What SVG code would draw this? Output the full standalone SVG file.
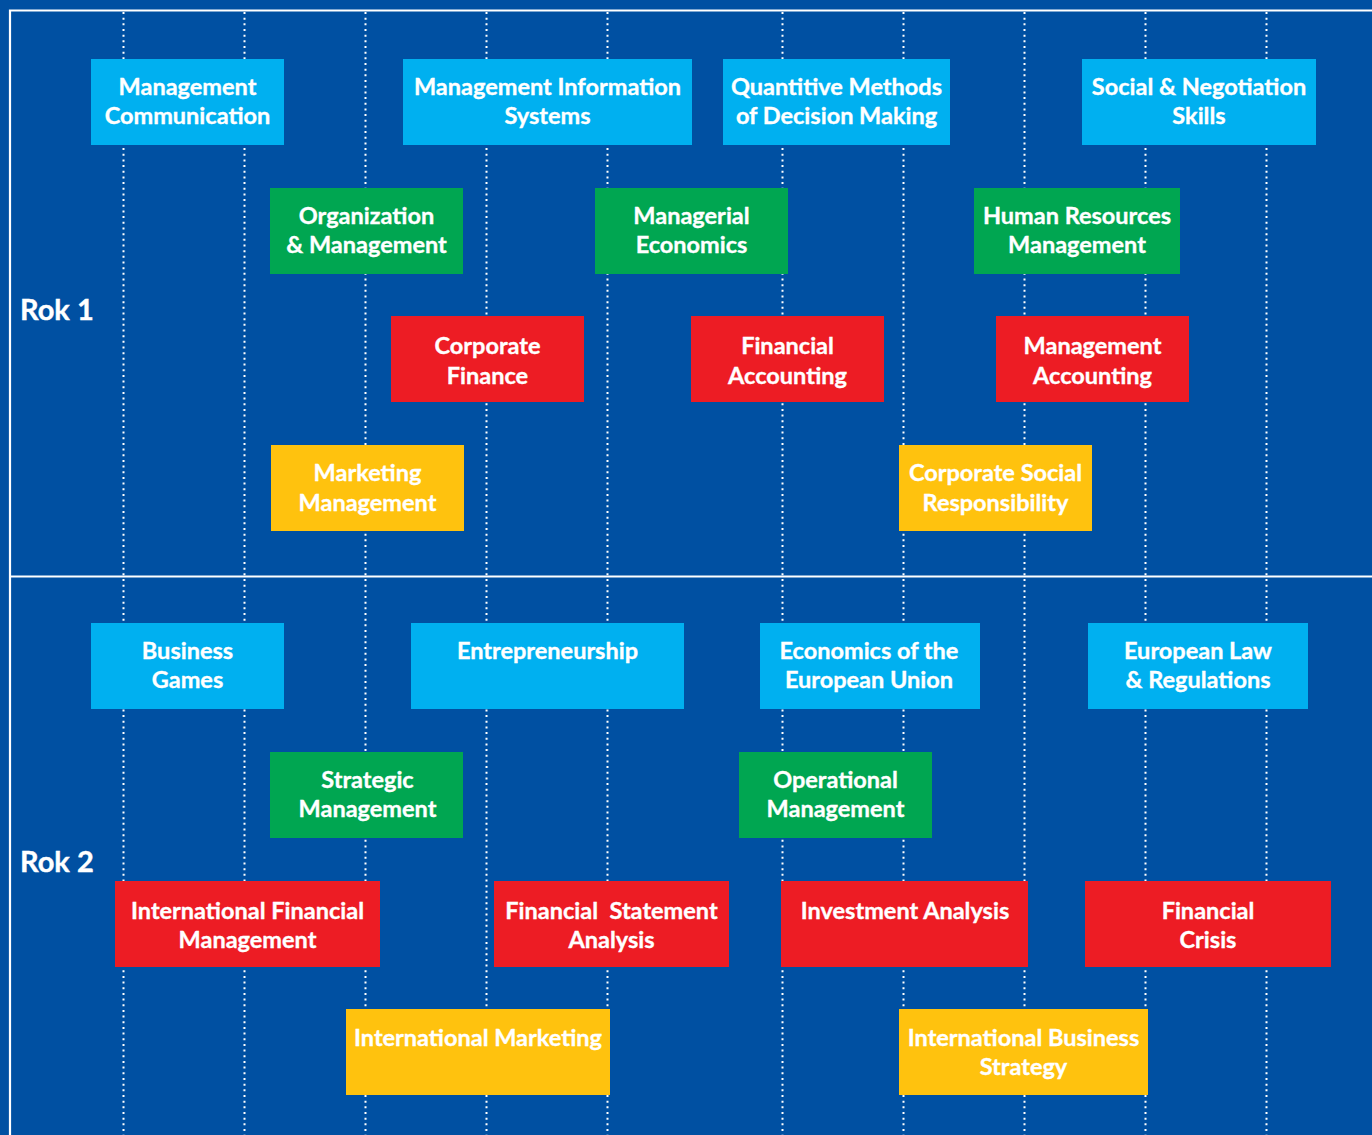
<svg xmlns="http://www.w3.org/2000/svg" width="1372" height="1135" viewBox="0 0 1372 1135">
<style>
.bg{fill:#0050A2}
.frame{stroke:#ffffff;stroke-width:2.2;fill:none}
.dot{stroke:#ffffff;stroke-width:2;stroke-dasharray:2 3.67;fill:none}
.b{fill:#00B0F0}
.g{fill:#00A651}
.r{fill:#ED1C24}
.y{fill:#FFC20E}
text{font-family:Lato,"Open Sans","Liberation Sans",sans-serif;font-weight:700;fill:#ffffff}
.t{font-size:23.5px;text-anchor:middle;stroke:#ffffff;stroke-width:0.35}
.rok{font-size:29px;stroke:#ffffff;stroke-width:0.4}
</style>
<rect class="bg" x="0" y="0" width="1372" height="1135"/>
<g id="connectors">
<line class="dot" x1="123.5" y1="12" x2="123.5" y2="1135"/>
<line class="dot" x1="244.5" y1="12" x2="244.5" y2="1135"/>
<line class="dot" x1="365.5" y1="12" x2="365.5" y2="1135"/>
<line class="dot" x1="486.5" y1="12" x2="486.5" y2="1135"/>
<line class="dot" x1="607.5" y1="12" x2="607.5" y2="1135"/>
<line class="dot" x1="782.5" y1="12" x2="782.5" y2="1135"/>
<line class="dot" x1="903.5" y1="12" x2="903.5" y2="1135"/>
<line class="dot" x1="1024.5" y1="12" x2="1024.5" y2="1135"/>
<line class="dot" x1="1145.5" y1="12" x2="1145.5" y2="1135"/>
<line class="dot" x1="1266.5" y1="12" x2="1266.5" y2="1135"/>
</g>
<g id="frame">
<polyline class="frame" points="10,1135 10,10.5 1372,10.5"/>
<line class="frame" x1="10" y1="576.5" x2="1372" y2="576.5"/>
</g>
<g id="labels">
<text class="rok" x="20" y="320">Rok 1</text>
<text class="rok" x="20" y="872">Rok 2</text>
</g>
<g id="n1"><rect class="b" x="91" y="59" width="193" height="86"/><text class="t" x="187.5" y="94.5">Management</text><text class="t" x="187.5" y="123.5">Communication</text></g>
<g id="n2"><rect class="b" x="403" y="59" width="289" height="86"/><text class="t" x="547.5" y="94.5">Management Information</text><text class="t" x="547.5" y="123.5">Systems</text></g>
<g id="n3"><rect class="b" x="723" y="59" width="227" height="86"/><text class="t" x="836.5" y="94.5">Quantitive Methods</text><text class="t" x="836.5" y="123.5">of Decision Making</text></g>
<g id="n4"><rect class="b" x="1082" y="59" width="234" height="86"/><text class="t" x="1199" y="94.5">Social &amp; Negotiation</text><text class="t" x="1199" y="123.5">Skills</text></g>
<g id="n5"><rect class="g" x="270" y="188" width="193" height="86"/><text class="t" x="366.5" y="223.5">Organization</text><text class="t" x="366.5" y="252.5">&amp; Management</text></g>
<g id="n6"><rect class="g" x="595" y="188" width="193" height="86"/><text class="t" x="691.5" y="223.5">Managerial</text><text class="t" x="691.5" y="252.5">Economics</text></g>
<g id="n7"><rect class="g" x="974" y="188" width="206" height="86"/><text class="t" x="1077" y="223.5">Human Resources</text><text class="t" x="1077" y="252.5">Management</text></g>
<g id="n8"><rect class="r" x="391" y="316" width="193" height="86"/><text class="t" x="487.5" y="354">Corporate</text><text class="t" x="487.5" y="383.5">Finance</text></g>
<g id="n9"><rect class="r" x="691" y="316" width="193" height="86"/><text class="t" x="787.5" y="354">Financial</text><text class="t" x="787.5" y="383.5">Accounting</text></g>
<g id="n10"><rect class="r" x="996" y="316" width="193" height="86"/><text class="t" x="1092.5" y="354">Management</text><text class="t" x="1092.5" y="383.5">Accounting</text></g>
<g id="n11"><rect class="y" x="271" y="445" width="193" height="86"/><text class="t" x="367.5" y="481">Marketing</text><text class="t" x="367.5" y="510.5">Management</text></g>
<g id="n12"><rect class="y" x="899" y="445" width="193" height="86"/><text class="t" x="995.5" y="481">Corporate Social</text><text class="t" x="995.5" y="510.5">Responsibility</text></g>
<g id="n13"><rect class="b" x="91" y="623" width="193" height="86"/><text class="t" x="187.5" y="658.5">Business</text><text class="t" x="187.5" y="687.5">Games</text></g>
<g id="n14"><rect class="b" x="411" y="623" width="273" height="86"/><text class="t" x="547.5" y="658.5">Entrepreneurship</text></g>
<g id="n15"><rect class="b" x="760" y="623" width="220" height="86"/><text class="t" x="869" y="658.5">Economics of the</text><text class="t" x="869" y="687.5">European Union</text></g>
<g id="n16"><rect class="b" x="1088" y="623" width="220" height="86"/><text class="t" x="1198" y="658.5">European Law</text><text class="t" x="1198" y="687.5">&amp; Regulations</text></g>
<g id="n17"><rect class="g" x="270" y="752" width="193" height="86"/><text class="t" x="367.5" y="787.5">Strategic</text><text class="t" x="367.5" y="816.5">Management</text></g>
<g id="n18"><rect class="g" x="739" y="752" width="193" height="86"/><text class="t" x="835.5" y="787.5">Operational</text><text class="t" x="835.5" y="816.5">Management</text></g>
<g id="n19"><rect class="r" x="115" y="881" width="265" height="86"/><text class="t" x="247.5" y="918.5">International Financial</text><text class="t" x="247.5" y="948">Management</text></g>
<g id="n20"><rect class="r" x="494" y="881" width="235" height="86"/><text class="t" x="611.5" y="918.5" style="white-space:pre">Financial  Statement</text><text class="t" x="611.5" y="948">Analysis</text></g>
<g id="n21"><rect class="r" x="781" y="881" width="247" height="86"/><text class="t" x="905" y="918.5">Investment Analysis</text></g>
<g id="n22"><rect class="r" x="1085" y="881" width="246" height="86"/><text class="t" x="1208" y="918.5">Financial</text><text class="t" x="1208" y="948">Crisis</text></g>
<g id="n23"><rect class="y" x="346" y="1009" width="264" height="86"/><text class="t" x="478" y="1045.5">International Marketing</text></g>
<g id="n24"><rect class="y" x="899" y="1009" width="249" height="86"/><text class="t" x="1023.5" y="1045.5">International Business</text><text class="t" x="1023.5" y="1075">Strategy</text></g>
</svg>
